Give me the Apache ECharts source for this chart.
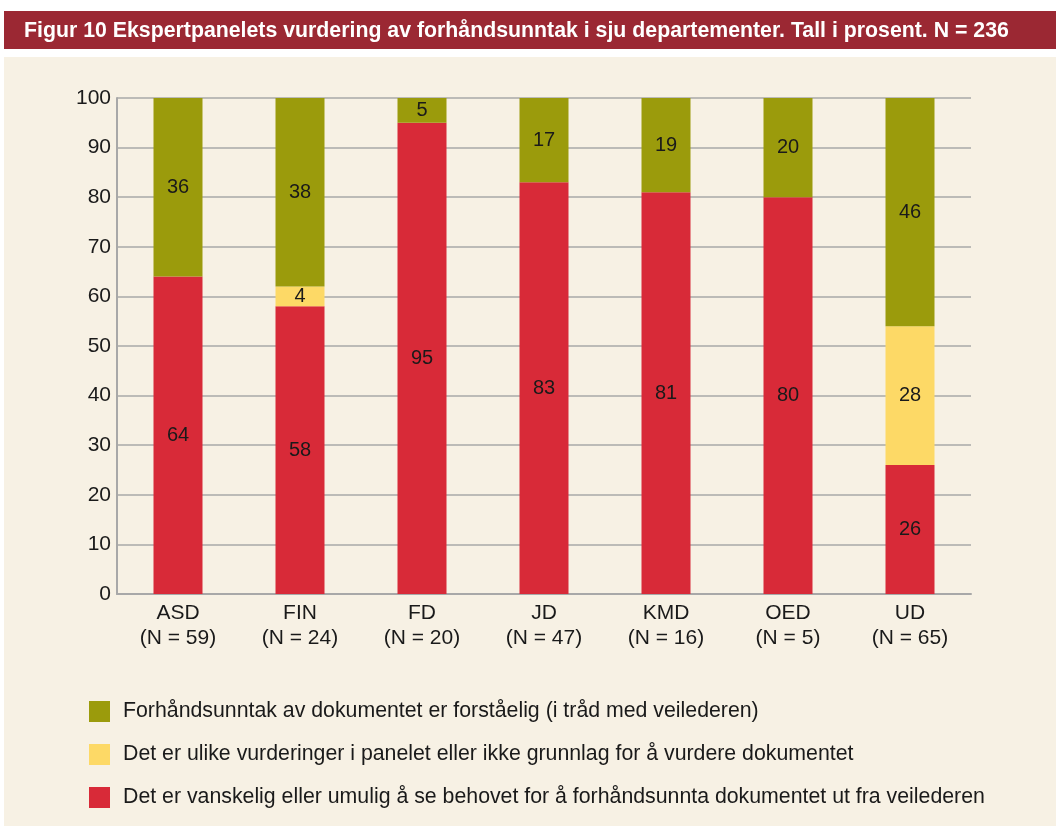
<!DOCTYPE html>
<html>
<head>
<meta charset="utf-8">
<script src="https://cdn.jsdelivr.net/npm/echarts@6/dist/echarts.min.js"></script>
<style>
  html, body { margin: 0; padding: 0; background: #ffffff; }
  #chart { width: 1056px; height: 826px; }
</style>
</head>
<body>
<div id="chart"></div>
<script>
// departementer og N
var categories = ['ASD\n(N = 59)', 'FIN\n(N = 24)', 'FD\n(N = 20)', 'JD\n(N = 47)', 'KMD\n(N = 16)', 'OED\n(N = 5)', 'UD\n(N = 65)'];
var seriesNames = [
    'Forhåndsunntak av dokumentet er forståelig (i tråd med veilederen)',
    'Det er ulike vurderinger i panelet eller ikke grunnlag for å vurdere dokumentet',
    'Det er vanskelig eller umulig å se behovet for å forhåndsunnta dokumentet ut fra veilederen'
];
var vanskelig = [64, 58, 95, 83, 81, 80, 26];
var ulike = [0, 4, 0, 0, 0, 0, 28];
var forstaelig = [36, 38, 5, 17, 19, 20, 46];
var yTicks = [0, 10, 20, 30, 40, 50, 60, 70, 80, 90, 100];

var colors = ['#9b9b0c', '#fdd966', '#d82a38'];
var fontFam = 'Liberation Sans, Arial, sans-serif';

function barSeries(name, data, color) {
    return {
        name: name,
        type: 'bar',
        stack: 'total',
        barWidth: 49,
        data: data,
        itemStyle: { color: color },
        label: {
            show: true,
            position: 'inside',
            color: '#1a1a1a',
            fontSize: 20,
            fontFamily: fontFam,
            formatter: function (p) { return p.value ? p.value : ''; }
        }
    };
}

var myChart = echarts.init(document.getElementById('chart'));
var option = {
    backgroundColor: '#ffffff',
    animation: false,
    graphic: [
        { type: 'rect', z: -10, shape: { x: 4, y: 11, width: 1052, height: 38 }, style: { fill: '#9b2833' } },
        { type: 'rect', z: -10, shape: { x: 4, y: 57, width: 1052, height: 769 }, style: { fill: '#f7f1e4' } },
        {
            type: 'text', x: 24, y: 31, z: 10,
            style: {
                text: 'Figur 10 Ekspertpanelets vurdering av forhåndsunntak i sju departementer. Tall i prosent. N = 236',
                fill: '#ffffff',
                verticalAlign: 'middle',
                font: 'bold 21.3px "Liberation Sans", Arial, sans-serif'
            }
        }
    ],
    grid: {
        left: 117,
        top: 98,
        width: 854,
        height: 496,
        containLabel: false
    },
    legend: {
        orient: 'vertical',
        left: 84,
        top: 696,
        itemWidth: 21,
        itemHeight: 21,
        itemGap: 22,
        icon: 'rect',
        data: seriesNames,
        textStyle: { fontSize: 21.3, lineHeight: 21, color: '#1a1a1a', fontFamily: fontFam, padding: [0, 0, 0, 8] }
    },
    xAxis: {
        type: 'category',
        data: categories,
        axisTick: { show: false },
        axisLine: { lineStyle: { color: '#a8a8a8', width: 2 } },
        axisLabel: { color: '#1a1a1a', fontSize: 21, fontFamily: fontFam, lineHeight: 25, margin: 7 }
    },
    yAxis: {
        type: 'value',
        min: yTicks[0],
        max: yTicks[yTicks.length - 1],
        interval: 10,
        axisLine: { show: true, lineStyle: { color: '#a8a8a8', width: 2 } },
        axisTick: { show: false },
        axisLabel: { color: '#1a1a1a', fontSize: 21, fontFamily: fontFam, margin: 6 },
        splitLine: { lineStyle: { color: '#a8a8a8', width: 1.5 } }
    },
    series: [
        barSeries(seriesNames[2], vanskelig, colors[2]),
        barSeries(seriesNames[1], ulike, colors[1]),
        barSeries(seriesNames[0], forstaelig, colors[0])
    ]
};
// legend colours in top-down order
option.color = [colors[2], colors[1], colors[0]];
myChart.setOption(option);
</script>
</body>
</html>
